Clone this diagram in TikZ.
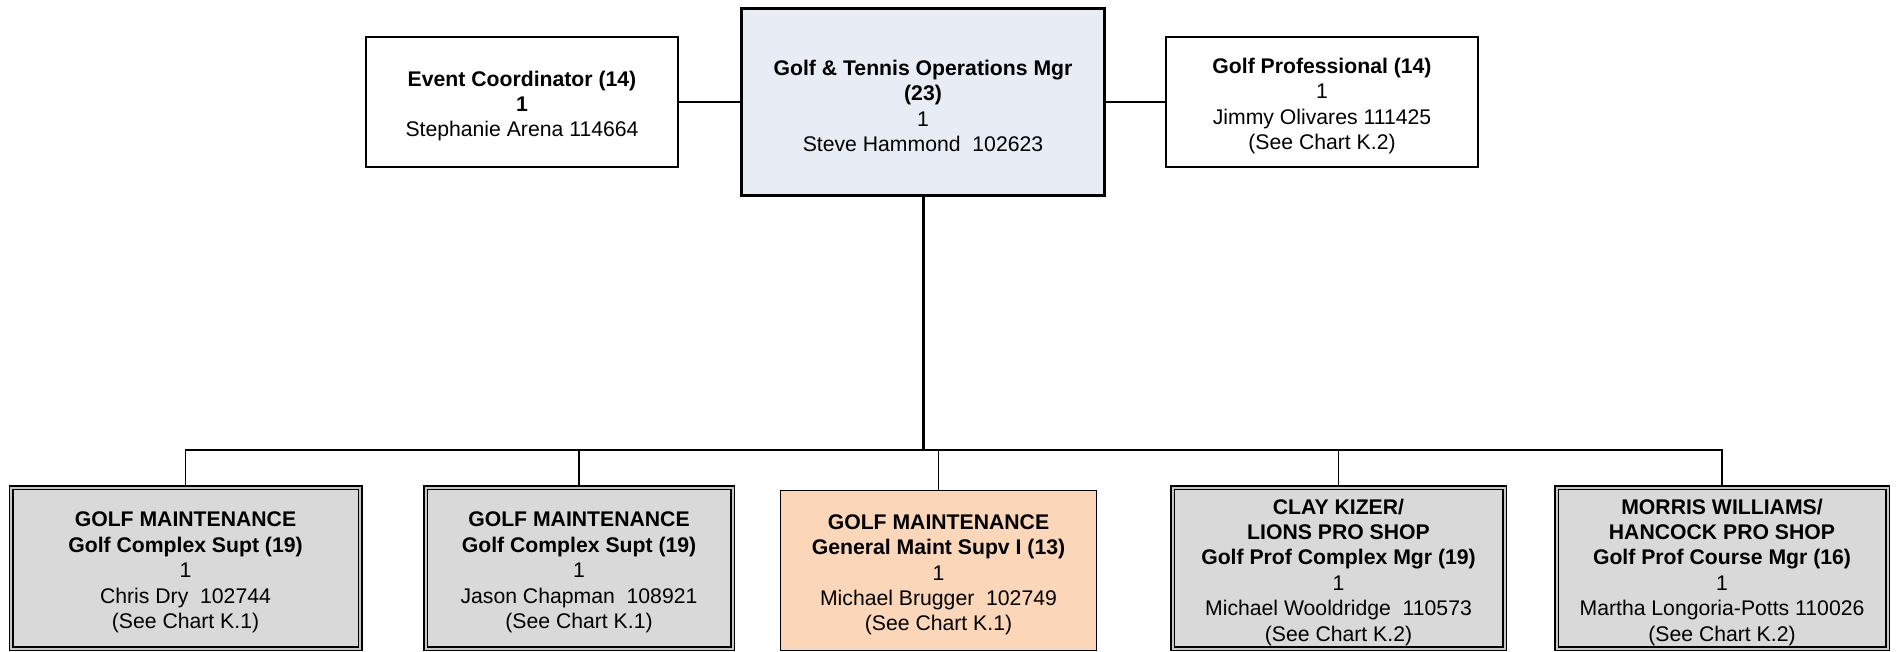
\documentclass[tikz,border=0pt]{standalone}
\usepackage{fontspec}
\setmainfont{Liberation Sans}
\usepackage{tikz}
\usetikzlibrary{positioning}

\definecolor{mgrfill}{RGB}{232,236,244}
\definecolor{orgfill}{RGB}{251,214,184}
\definecolor{unitfill}{RGB}{217,217,217}
\newcommand{\toprule}{\rule{0pt}{11.8pt}}

\begin{document}
\begin{tikzpicture}[x=0.5pt,y=-0.5pt,
		post/.style={draw, line width=0.75pt, align=center, inner sep=0pt,
			font=\fontsize{10.6}{12.7}\selectfont},
		headpost/.style={post, fill=mgrfill, line width=1.5pt},
		unit/.style={post, fill=unitfill, double=black!22, double distance=1pt},
		maintpost/.style={post, fill=orgfill},
		link/.style={line width=0.75pt}]
			\useasboundingbox (0,0) rectangle (1896,652);

			% top row
			\node[headpost, minimum width=181.5pt, minimum height=93.5pt] (mgr) at (923,102)
				{\toprule\textbf{Golf \& Tennis Operations Mgr}\\ \textbf{(23)}\\ 1\\ Steve Hammond\ \ 102623};
			\node[post, minimum width=156pt, minimum height=65pt] (evt) at (522,102)
				{\toprule\textbf{Event Coordinator (14)}\\ \textbf{1}\\ Stephanie Arena 114664};
			\node[post, minimum width=156pt, minimum height=65pt] (pro) at (1322,102)
				{\toprule\textbf{Golf Professional (14)}\\ 1\\ Jimmy Olivares 111425\\ (See Chart K.2)};

			% bottom row
			\node[unit, minimum width=174.5pt, minimum height=80.5pt] (gm1) at (185.5,568)
				{\toprule\textbf{GOLF MAINTENANCE}\\ \textbf{Golf Complex Supt (19)}\\ 1\\ Chris Dry\ \ 102744\\ (See Chart K.1)};
			\node[unit, minimum width=153.5pt, minimum height=80.5pt] (gm2) at (579,568)
				{\toprule\textbf{GOLF MAINTENANCE}\\ \textbf{Golf Complex Supt (19)}\\ 1\\ Jason Chapman\ \ 108921\\ (See Chart K.1)};
			\node[maintpost, minimum width=158pt, minimum height=80pt] (gm3) at (938.5,570.5)
				{\toprule\textbf{GOLF MAINTENANCE}\\ \textbf{General Maint Supv I (13)}\\ 1\\ Michael Brugger\ \ 102749\\ (See Chart K.1)};
			\node[unit, minimum width=166pt, minimum height=80.5pt] (lions) at (1338.5,568)
				{\toprule\textbf{CLAY KIZER/}\\ \textbf{LIONS PRO SHOP}\\ \textbf{Golf Prof Complex Mgr (19)}\\ 1\\ Michael Wooldridge\ \ 110573\\ (See Chart K.2)};
			\node[unit, minimum width=165.5pt, minimum height=80.5pt] (hancock) at (1722,568)
				{\toprule\textbf{MORRIS WILLIAMS/}\\ \textbf{HANCOCK PRO SHOP}\\ \textbf{Golf Prof Course Mgr (16)}\\ 1\\ Martha Longoria-Potts 110026\\ (See Chart K.2)};

			\coordinate (bus) at (923,450);

			\draw[link] (evt) -- (mgr) -- (pro);
			\draw[line width=1.5pt] (mgr.south) -- (bus);
			\foreach \n in {gm1,gm2,gm3,lions,hancock}
				\draw[link] (\n.north) |- (bus);
		\end{tikzpicture}
\end{document}
